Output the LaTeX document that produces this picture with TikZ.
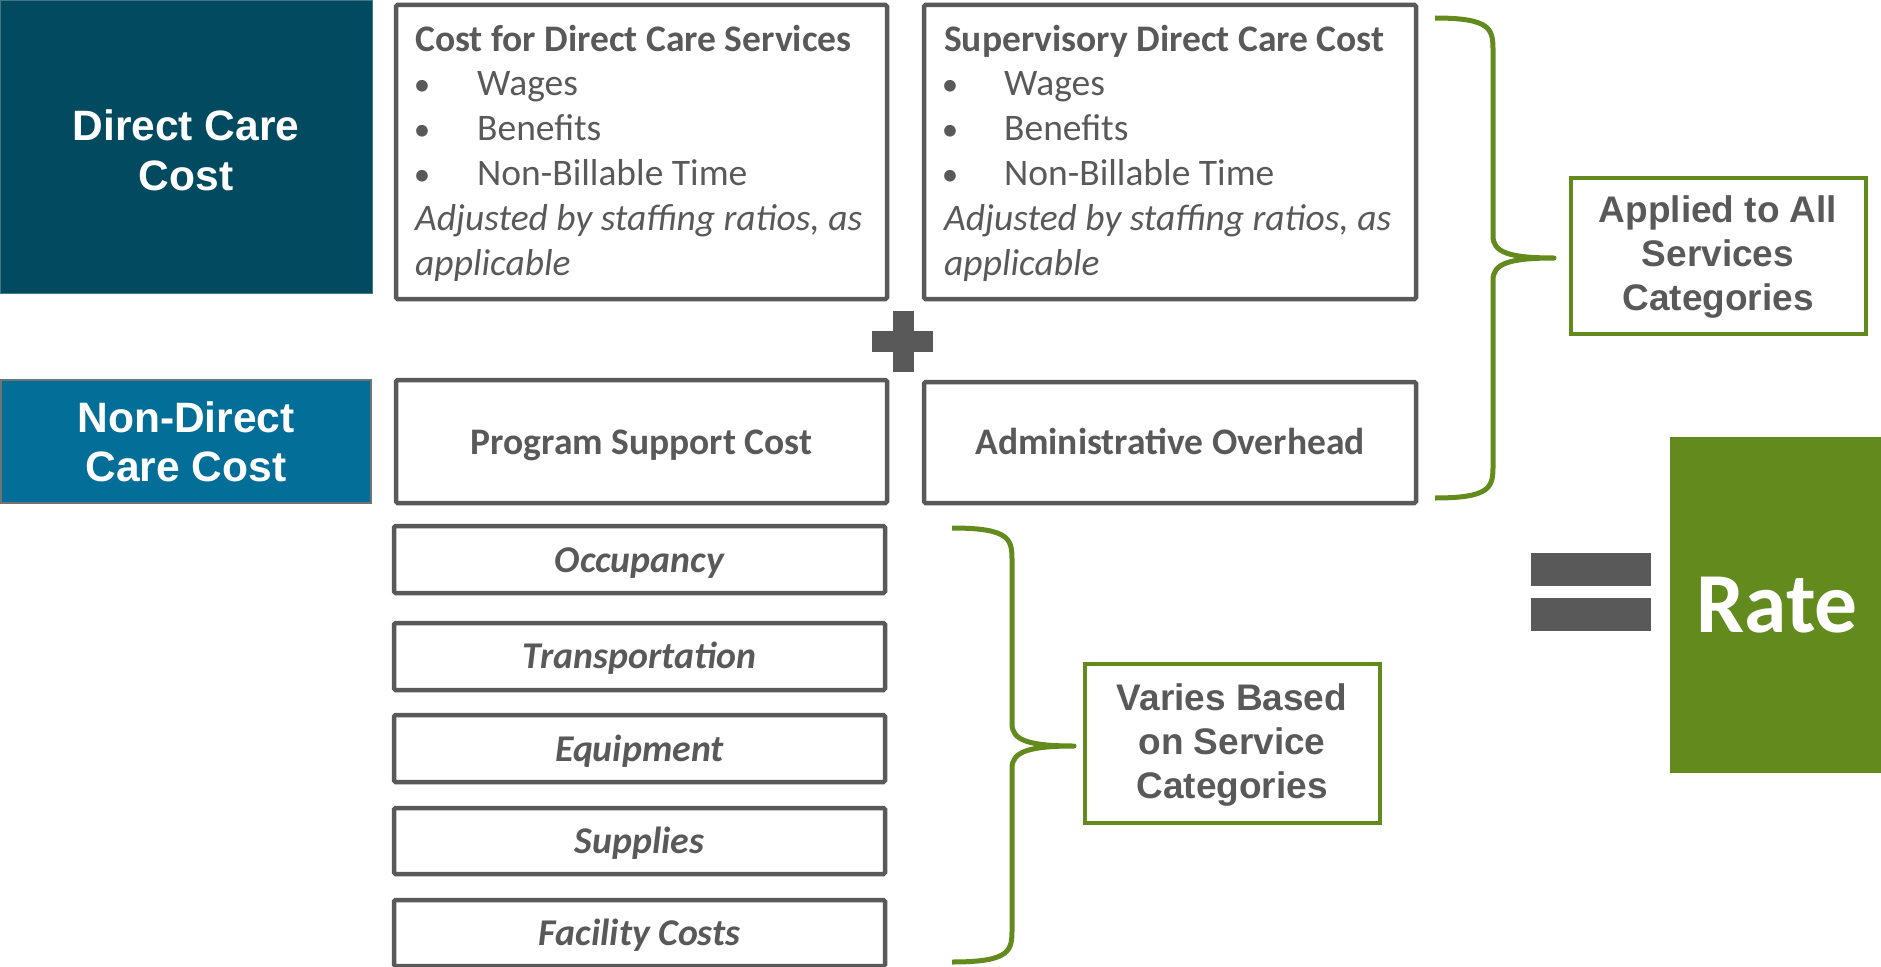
\documentclass[tikz,border=0pt]{standalone}
\usepackage{fontspec}
\setmainfont{Carlito}
\newfontfamily\arialf{Liberation Sans}
\usetikzlibrary{fit}
\definecolor{dcc}{HTML}{024A60}
\definecolor{ndc}{HTML}{036E98}
\definecolor{grn}{HTML}{628A1D}
\definecolor{gry}{HTML}{595959}
\newcommand\fsz[2]{\fontsize{#1}{#2}\selectfont}
\begin{document}
\begin{tikzpicture}[x=1pt,y=-1pt,
  greybox/.style={draw=gry, line width=4.5pt, inner sep=0pt, rounded corners=1.5pt},
  greenbox/.style={draw=grn, line width=4pt, inner sep=0pt},
  fillbox/.style={inner sep=0pt},
  bodytxt/.style={anchor=base west, inner sep=0pt, text=gry, font=\fsz{37.5}{44}},
  titletxt/.style={bodytxt, font=\fsz{37.5}{44}\bfseries},
  ittxt/.style={bodytxt, font=\fsz{37.5}{44}\itshape},
  bullet/.style={anchor=base, inner sep=0pt, text=gry, font=\fsz{33}{40}},
  midtxt/.style={anchor=base, inner sep=0pt, text=gry, font=\fsz{37.5}{44}\bfseries},
  smalltxt/.style={anchor=base, inner sep=0pt, text=gry, font=\fsz{37.8}{44}\bfseries\itshape},
  arialtxt/.style={inner sep=0pt, align=center, font=\arialf\bfseries\fsz{37}{44.4}, text=gry},
  bracestyle/.style={draw=grn, line width=5pt, line cap=butt, line join=round},
  signfill/.style={fill=gry, draw=none}
]
\useasboundingbox (0,0) rectangle (1881,966);

% left category boxes
\node[fillbox, fill=dcc, draw=dcc!75!white, line width=1pt, fit={(0.5,0.5) (372,293)}] (dc) {};
\node[fillbox, fill=ndc, draw=gry!85, line width=1.5pt, fit={(0.8,380) (371,503)}] (ndc) {};
\node[inner sep=0pt, align=center, text=white, font=\arialf\bfseries\fsz{42.5}{50}] (dct) at (186,150) {Direct Care\\Cost};
\node[inner sep=0pt, align=center, text=white, font=\arialf\bfseries\fsz{42.5}{49}] (ndct) at (186,442) {Non-Direct\\Care Cost};

% top boxes
\node[greybox, fit={(396,5) (887,299)}] (cds) {};
\node[greybox, fit={(924,5) (1416,299)}] (sdc) {};

\node[titletxt] (cdsT) at (415,52) {Cost for Direct Care Services};
\node[bullet] (cdsB1) at (422,95) {•};
\node[bodytxt] (cdsW) at (477,95) {Wages};
\node[bullet] (cdsB2) at (422,140) {•};
\node[bodytxt] (cdsBe) at (477,140) {Benefits};
\node[bullet] (cdsB3) at (422,185) {•};
\node[bodytxt] (cdsN) at (477,185) {Non-Billable Time};
\node[ittxt] (cdsA1) at (415,230) {Adjusted by staffing ratios, as};
\node[ittxt] (cdsA2) at (415,275) {applicable};

\node[titletxt] (sdcT) at (944,52) {Supervisory Direct Care Cost};
\node[bullet] (sdcB1) at (950,95) {•};
\node[bodytxt] (sdcW) at (1004,95) {Wages};
\node[bullet] (sdcB2) at (950,140) {•};
\node[bodytxt] (sdcBe) at (1004,140) {Benefits};
\node[bullet] (sdcB3) at (950,185) {•};
\node[bodytxt] (sdcN) at (1004,185) {Non-Billable Time};
\node[ittxt] (sdcA1) at (944,230) {Adjusted by staffing ratios, as};
\node[ittxt] (sdcA2) at (944,275) {applicable};

% plus
\fill[signfill] (872,331) rectangle (933,352);
\fill[signfill] (893,311) rectangle (914,372);

% middle boxes
\node[greybox, fit={(396,380) (887,503)}] (psc) {};
\node[greybox, fit={(924,382) (1416,503)}] (aoh) {};
\node[midtxt] (psct) at (psc.center |- 0,454) {Program Support Cost};
\node[midtxt] (aoht) at (aoh.center |- 0,454) {Administrative Overhead};

% small boxes
\node[greybox, fit={(394,526) (885,593)}] (occ) {};
\node[greybox, fit={(394,623) (885,690)}] (trn) {};
\node[greybox, fit={(394,715) (885,782)}] (eqp) {};
\node[greybox, fit={(394,808) (885,874)}] (sup) {};
\node[greybox, fit={(394,900) (885,966)}] (fac) {};
\node[smalltxt] (occt) at (occ.center |- 0,572) {Occupancy};
\node[smalltxt] (trnt) at (trn.center |- 0,668) {Transportation};
\node[smalltxt] (eqpt) at (eqp.center |- 0,761) {Equipment};
\node[smalltxt] (supt) at (sup.center |- 0,853) {Supplies};
\node[smalltxt] (fact) at (fac.center |- 0,945) {Facility Costs};

% braces
\draw[bracestyle] (1435,18) .. controls (1493,18) and (1493,30) .. (1493,52) -- (1493,236)
  .. controls (1493,252) and (1508,258) .. (1554,258)
  .. controls (1508,258) and (1493,264) .. (1493,280) -- (1493,464)
  .. controls (1493,486) and (1493,498) .. (1435,498);
\draw[bracestyle] (952,528) .. controls (1012,528) and (1012,540) .. (1012,562) -- (1012,724)
  .. controls (1012,740) and (1028,746) .. (1074,746)
  .. controls (1028,746) and (1012,752) .. (1012,768) -- (1012,928)
  .. controls (1012,950) and (1012,962) .. (952,962);

% green label boxes
\node[greenbox, fit={(1571,178) (1866,334)}] (app) {};
\node[arialtxt] (appt) at (1718,257) {Applied to All\\Services\\Categories};
\node[greenbox, fit={(1085,664) (1380,823)}] (var) {};
\node[arialtxt] (vart) at (1232,745) {Varies Based\\on Service\\Categories};

% equals and rate
\fill[signfill] (1531,553) rectangle (1651,586);
\fill[signfill] (1531,598) rectangle (1651,631);
\node[fillbox, fill=grn, fit={(1670,437) (1881,773)}] (rate) {};
\node[inner sep=0pt, text=white, font=\fsz{85.5}{90}\bfseries] (ratet) at (1777,605) {Rate};
\end{tikzpicture}
\end{document}
